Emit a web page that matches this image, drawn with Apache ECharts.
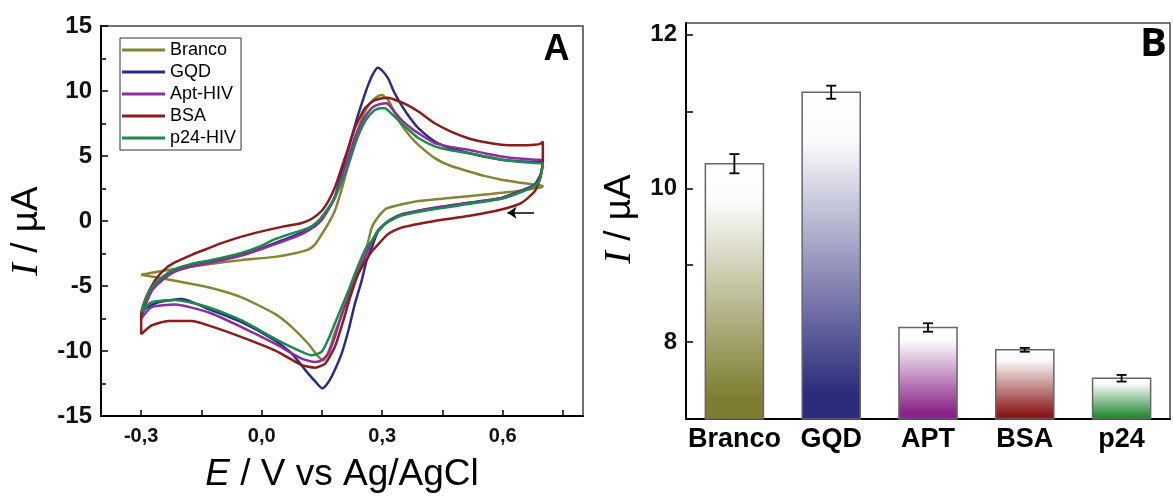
<!DOCTYPE html>
<html><head><meta charset="utf-8">
<script src="https://cdn.jsdelivr.net/npm/echarts@6/dist/echarts.min.js"></script>
<style>html,body{margin:0;padding:0;background:#fff}#c{width:1173px;height:498px}</style>
</head><body><div id="c"></div>
<script>
// ---------- Panel A data: cyclic voltammograms [E (V), I (µA)] ----------
const seriesNames = ['Branco', 'GQD', 'Apt-HIV', 'BSA', 'p24-HIV'];
const branco = [[-0.3,-4.13],[-0.26,-3.9],[-0.216,-3.70],[-0.133,-3.32],[-0.05,-3.01],[0.033,-2.76],[0.08,-2.5],[0.116,-2.2],[0.133,-1.8],[0.15,-1.0],[0.166,-0.2],[0.182,0.77],[0.195,2.0],[0.207,3.32],[0.22,4.9],[0.232,6.38],[0.245,7.5],[0.257,8.42],[0.27,9.05],[0.282,9.44],[0.299,9.69],[0.315,9.3],[0.33,8.4],[0.348,7.39],[0.37,6.5],[0.39,5.86],[0.431,4.84],[0.47,4.25],[0.514,3.83],[0.557,3.45],[0.597,3.18],[0.64,2.97],[0.68,2.80],[0.70,2.7],
  [0.695,2.58],[0.688,2.55],[0.639,2.3],[0.556,2.04],[0.473,1.78],[0.39,1.53],[0.332,1.15],[0.31,0.95],[0.299,0.64],[0.285,0.1],[0.274,-0.51],[0.261,-2.04],[0.24,-3.5],[0.22,-5.2],[0.2,-7.2],[0.182,-8.6],[0.174,-9.4],[0.163,-10.3],[0.153,-10.71],[0.14,-10.4],[0.116,-9.44],[0.075,-8.16],[0.033,-7.15],[-0.05,-5.87],[-0.133,-5.10],[-0.216,-4.59],[-0.3,-4.13]];
const gqd = [[-0.3,-7.27],[-0.295,-6.7],[-0.29,-6.3],[-0.274,-5.3],[-0.249,-4.5],[-0.216,-3.85],[-0.175,-3.45],[-0.133,-3.2],[-0.05,-2.6],[0,-2.1],[0.05,-1.5],[0.1,-0.9],[0.133,-0.3],[0.15,0.2],[0.166,0.9],[0.182,1.78],[0.191,2.8],[0.203,4.2],[0.216,5.61],[0.228,6.9],[0.24,8.16],[0.253,9.4],[0.265,10.45],[0.277,11.3],[0.289,11.78],[0.302,11.5],[0.315,10.96],[0.33,9.9],[0.348,8.92],[0.37,7.9],[0.39,7.14],[0.431,6.12],[0.47,5.6],[0.514,5.23],[0.557,4.95],[0.597,4.71],[0.64,4.6],[0.68,4.54],[0.70,4.5],
  [0.695,3.6],[0.688,3.18],[0.68,2.8],[0.64,2.25],[0.597,1.78],[0.514,1.40],[0.431,1.02],[0.348,0.51],[0.315,0.0],[0.29,-0.77],[0.274,-2.04],[0.261,-3.06],[0.249,-4.59],[0.232,-6.38],[0.216,-8.42],[0.199,-10.2],[0.18,-11.6],[0.166,-12.4],[0.151,-12.88],[0.135,-12.4],[0.116,-11.74],[0.075,-10.2],[0.033,-9.18],[-0.05,-7.78],[-0.133,-6.76],[-0.199,-6.0],[-0.257,-6.25],[-0.29,-6.76],[-0.3,-7.27]];
const aptHiv = [[-0.3,-7.52],[-0.295,-6.9],[-0.29,-6.5],[-0.274,-5.4],[-0.249,-4.6],[-0.216,-3.9],[-0.175,-3.5],[-0.133,-3.25],[-0.05,-2.65],[0,-2.15],[0.05,-1.6],[0.1,-1.0],[0.133,-0.4],[0.15,0.1],[0.166,0.9],[0.182,1.9],[0.195,3.0],[0.207,4.1],[0.22,5.3],[0.232,6.4],[0.245,7.3],[0.257,8.0],[0.27,8.55],[0.282,8.85],[0.296,9.0],[0.311,9.05],[0.328,8.5],[0.348,7.78],[0.37,7.2],[0.39,6.76],[0.431,5.99],[0.47,5.7],[0.514,5.48],[0.557,5.2],[0.597,4.97],[0.64,4.8],[0.68,4.71],[0.70,4.7],
  [0.695,3.6],[0.69,3.1],[0.68,2.75],[0.64,2.2],[0.597,1.75],[0.514,1.38],[0.431,1.0],[0.348,0.48],[0.315,-0.05],[0.29,-0.7],[0.274,-1.6],[0.261,-2.5],[0.249,-3.3],[0.232,-4.6],[0.216,-5.9],[0.199,-7.2],[0.182,-8.93],[0.166,-10.2],[0.15,-10.7],[0.133,-10.84],[0.1,-10.59],[0.033,-9.44],[-0.05,-8.16],[-0.133,-7.02],[-0.216,-6.43],[-0.274,-6.63],[-0.3,-7.52]];
const bsa = [[-0.3,-8.72],[-0.3,-7.27],[-0.2875,-5.87],[-0.266,-4.59],[-0.241,-3.7],[-0.216,-3.19],[-0.174,-2.6],[-0.133,-2.1],[-0.1,-1.7],[-0.05,-1.2],[0,-0.8],[0.05,-0.45],[0.1,-0.15],[0.124,0.15],[0.149,0.77],[0.166,1.53],[0.182,2.55],[0.195,3.7],[0.207,4.84],[0.22,6.0],[0.232,7.14],[0.245,8.0],[0.257,8.67],[0.27,9.05],[0.282,9.30],[0.3,9.45],[0.315,9.49],[0.33,9.35],[0.35,9.1],[0.37,8.8],[0.39,8.42],[0.431,7.52],[0.47,6.9],[0.514,6.37],[0.557,6.05],[0.597,5.86],[0.64,5.82],[0.68,5.86],[0.695,5.95],[0.70,6.12],
  [0.70,4.5],[0.695,3.5],[0.69,3.0],[0.68,2.29],[0.647,1.40],[0.597,0.89],[0.514,0.38],[0.431,0.0],[0.348,-0.51],[0.315,-1.0],[0.29,-1.79],[0.275,-2.3],[0.26,-3.0],[0.24,-4.1],[0.22,-5.9],[0.2,-8.0],[0.182,-9.69],[0.158,-10.97],[0.133,-11.28],[0.1,-11.09],[0.033,-9.95],[-0.05,-8.93],[-0.133,-8.03],[-0.174,-7.7],[-0.232,-7.7],[-0.274,-8.03],[-0.3,-8.72]];
const p24Hiv = [[-0.3,-7.0],[-0.295,-6.5],[-0.29,-6.1],[-0.274,-5.1],[-0.249,-4.34],[-0.216,-3.7],[-0.175,-3.3],[-0.133,-3.06],[-0.05,-2.45],[0,-1.9],[0.033,-1.4],[0.075,-0.95],[0.116,-0.55],[0.141,0.0],[0.166,1.0],[0.182,1.78],[0.195,2.7],[0.207,3.57],[0.22,4.7],[0.232,5.86],[0.245,6.9],[0.257,7.65],[0.27,8.2],[0.282,8.54],[0.295,8.68],[0.307,8.67],[0.325,8.2],[0.348,7.52],[0.37,6.9],[0.39,6.38],[0.431,5.74],[0.47,5.45],[0.514,5.23],[0.557,4.95],[0.597,4.71],[0.64,4.55],[0.68,4.46],[0.70,4.4],
  [0.695,3.5],[0.69,3.0],[0.68,2.7],[0.64,2.15],[0.597,1.7],[0.514,1.3],[0.431,0.92],[0.348,0.42],[0.315,-0.05],[0.29,-0.8],[0.275,-1.5],[0.261,-2.04],[0.249,-2.81],[0.232,-4.08],[0.216,-5.36],[0.199,-6.63],[0.182,-7.9],[0.166,-9.1],[0.149,-10.07],[0.124,-10.33],[0.1,-10.07],[0.033,-9.06],[-0.05,-7.65],[-0.133,-6.63],[-0.216,-6.07],[-0.274,-6.25],[-0.3,-7.0]];
const curvesA = [branco, gqd, aptHiv, bsa, p24Hiv];
const xLabelValuesA = [-0.3, 0, 0.3, 0.6];
const xTickValuesA = [-0.3, -0.15, 0, 0.15, 0.3, 0.45, 0.6, 0.75];
const arrowE = [0.678, 0.612];   // scan-direction arrow (start -> head), V
const arrowI = 0.64;             // µA

// ---------- Panel B data ----------
const categoriesB = ['Branco', 'GQD', 'APT', 'BSA', 'p24'];
const valuesB = [10.32, 11.25, 8.19, 7.90, 7.53];
const errorsB = [0.125, 0.085, 0.055, 0.025, 0.043];
const yLabelValuesB = [8, 10, 12];
const yTickValuesB = [8, 9, 10, 11, 12];

// ---------- styles ----------
const lineColors = ['#858533', '#2b2b8c', '#8c2e9c', '#8c1c1c', '#1c8a4a'];
const barColors = ['#7d7d30', '#2b2b7c', '#8a2488', '#8a1a1a', '#268a36'];
const SANS = 'Liberation Sans';
const yMinB = 7, yMaxB = 12.15;

const chart = echarts.init(document.getElementById('c'), null, {renderer: 'canvas'});

const lineSeries = curvesA.map((d, i) => ({
  name: seriesNames[i], type: 'line', xAxisIndex: 0, yAxisIndex: 0,
  data: d, showSymbol: false, symbol: 'none', smooth: 0.2,
  lineStyle: {width: 2.5, color: lineColors[i]}, itemStyle: {color: lineColors[i]},
  silent: true, z: 3 + i
}));
lineSeries[0].markLine = {
  silent: true, animation: false, symbol: ['none', 'arrow'], symbolSize: 9,
  lineStyle: {color: '#000', width: 1.5, type: 'solid'}, label: {show: false},
  emphasis: {disabled: true},
  data: [[{coord: [arrowE[0], arrowI]}, {coord: [arrowE[1], arrowI]}]]
};

const barSeries = {
  name: 'barras', type: 'custom', xAxisIndex: 1, yAxisIndex: 1,
  data: valuesB.map((v, i) => [i, v]), encode: {x: 0, y: 1},
  renderItem: (params, api) => {
    const i = api.value(0), v = api.value(1);
    const top = api.coord([i, v]);
    const base = api.coord([i, yMinB]);
    const w = api.size([1, 0])[0] * 0.6;
    return {
      type: 'rect',
      shape: {x: top[0] - w / 2, y: top[1], width: w, height: base[1] - top[1]},
      style: {
        fill: new echarts.graphic.LinearGradient(0, 0, 0, 1, [
          {offset: 0, color: '#ffffff'}, {offset: 0.15, color: '#fbfbfb'},
          {offset: 0.92, color: barColors[i]}, {offset: 1, color: barColors[i]}]),
        stroke: '#666', lineWidth: 1.5
      }
    };
  }, z: 2
};
const errSeries = {
  name: 'erro', type: 'custom', xAxisIndex: 1, yAxisIndex: 1,
  data: valuesB.map((v, i) => [i, v, errorsB[i]]), encode: {x: 0, y: 1},
  renderItem: (params, api) => {
    const i = api.value(0), v = api.value(1), e = api.value(2);
    const hi = api.coord([i, v + e]), lo = api.coord([i, v - e]);
    const c = 5;
    const st = {stroke: '#000', lineWidth: 1.8};
    return {type: 'group', children: [
      {type: 'line', shape: {x1: hi[0], y1: hi[1], x2: lo[0], y2: lo[1]}, style: st},
      {type: 'line', shape: {x1: hi[0] - c, y1: hi[1], x2: hi[0] + c, y2: hi[1]}, style: st},
      {type: 'line', shape: {x1: lo[0] - c, y1: lo[1], x2: lo[0] + c, y2: lo[1]}, style: st}
    ]};
  }, z: 4
};

const option = {
  animation: false,
  backgroundColor: '#fff',
  textStyle: {fontFamily: SANS},
  grid: [
    {left: 101, top: 26, width: 482, height: 392, show: true, borderColor: '#444', borderWidth: 1.5, backgroundColor: 'transparent'},
    {left: 686, top: 23, width: 484, height: 396, show: true, borderColor: '#444', borderWidth: 1.5, backgroundColor: 'transparent'}
  ],
  legend: {
    data: seriesNames, orient: 'vertical', left: 120, top: 38,
    icon: 'rect', itemWidth: 43, itemHeight: 3, itemGap: 4, padding: [3, 5, 3, 2],
    borderColor: '#333', borderWidth: 1, backgroundColor: '#fff',
    textStyle: {fontSize: 18, fontFamily: SANS, color: '#000', lineHeight: 18},
    selectedMode: false
  },
  xAxis: [
    {
      type: 'value', gridIndex: 0, min: -0.4, max: 0.8,
      name: '{e|E} / V vs Ag/AgCl', nameLocation: 'middle', nameGap: 40,
      nameTextStyle: {fontSize: 37, fontFamily: SANS, color: '#000',
        rich: {e: {fontSize: 37, fontFamily: SANS, fontStyle: 'italic', color: '#000'}}},
      axisLine: {show: true, onZero: false, lineStyle: {color: '#000', width: 2}},
      axisTick: {show: true, inside: true, length: 6, lineStyle: {color: '#000', width: 1.5}, customValues: xTickValuesA},
      axisLabel: {show: true, customValues: xLabelValuesA, margin: 10, fontSize: 20, fontWeight: 'bold', fontFamily: SANS, color: '#111',
        formatter: v => v.toFixed(1).replace('.', ',')},
      splitLine: {show: false}
    },
    {
      type: 'category', gridIndex: 1, data: categoriesB, boundaryGap: true,
      axisLine: {show: true, lineStyle: {color: '#000', width: 2}},
      axisTick: {show: false},
      axisLabel: {interval: 0, hideOverlap: false, margin: 7, fontSize: 27, fontWeight: 'bold', fontFamily: SANS, color: '#000'},
      splitLine: {show: false}
    }
  ],
  yAxis: [
    {
      type: 'value', gridIndex: 0, min: -15, max: 15, interval: 5,
      axisLine: {show: true, onZero: false, lineStyle: {color: '#000', width: 2}},
      axisTick: {show: true, inside: true, length: 7, lineStyle: {color: '#000', width: 1.5}},
      minorTick: {show: true, splitNumber: 2, length: 5, lineStyle: {color: '#000', width: 1.5}},
      axisLabel: {margin: 9, fontSize: 24, fontWeight: 'bold', fontFamily: SANS, color: '#111'},
      splitLine: {show: false}, minorSplitLine: {show: false}
    },
    {
      type: 'value', gridIndex: 1, min: yMinB, max: yMaxB,
      axisLine: {show: true, onZero: false, lineStyle: {color: '#000', width: 2}},
      axisTick: {show: true, inside: true, length: 7, lineStyle: {color: '#000', width: 1.5}, customValues: yTickValuesB},
      axisLabel: {customValues: yLabelValuesB, margin: 9, fontSize: 24, fontWeight: 'bold', fontFamily: SANS, color: '#111'},
      splitLine: {show: false}
    }
  ],
  graphic: [
    {type: 'text', x: 27, y: 231, rotation: Math.PI / 2, silent: true,
      style: {text: '{i|I}{t| / µA}', align: 'center', verticalAlign: 'middle',
        rich: {i: {fontSize: 38, fontFamily: 'Liberation Serif', fontStyle: 'italic', fill: '#000'},
               t: {fontSize: 37, fontFamily: SANS, fill: '#000'}}}},
    {type: 'text', x: 620, y: 219, rotation: Math.PI / 2, silent: true,
      style: {text: '{i|I}{t| / µA}', align: 'center', verticalAlign: 'middle',
        rich: {i: {fontSize: 38, fontFamily: 'Liberation Serif', fontStyle: 'italic', fill: '#000'},
               t: {fontSize: 37, fontFamily: SANS, fill: '#000'}}}},
    {type: 'text', x: 556.5, y: 50, silent: true,
      style: {text: 'A', align: 'center', verticalAlign: 'middle', font: 'bold 36px "Liberation Sans"', fill: '#000'}},
    {type: 'text', x: 1153.5, y: 45, silent: true,
      style: {text: 'B', align: 'center', verticalAlign: 'middle', font: 'bold 40px "Open Sans"', fill: '#000'}}
  ],
  series: [...lineSeries, barSeries, errSeries]
};
chart.setOption(option);
</script>
</body></html>
